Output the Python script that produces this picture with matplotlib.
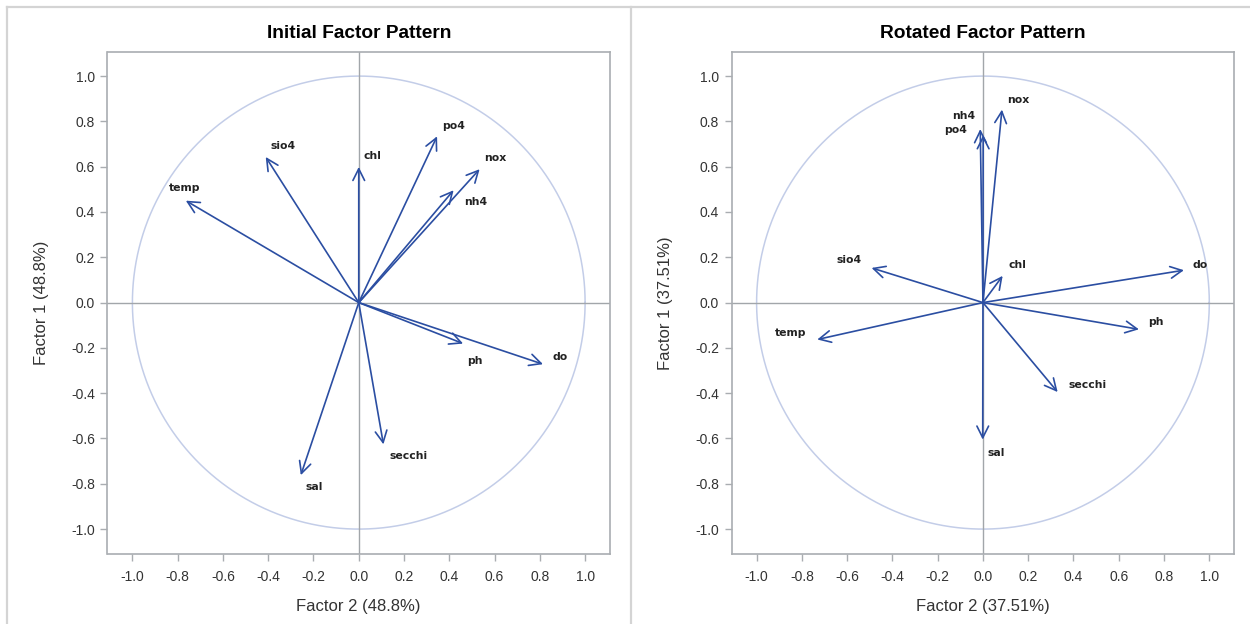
import matplotlib.pyplot as plt
import numpy as np
from matplotlib.lines import Line2D

plt.rcParams['font.family'] = ['Liberation Sans', 'DejaVu Sans']

# variables and loadings
variables = ['temp', 'sio4', 'chl', 'po4', 'nox', 'nh4', 'ph', 'do', 'sal', 'secchi']

initial_f2 = [-0.764, -0.411, 0.000, 0.346, 0.534, 0.419, 0.461, 0.814, -0.256, 0.109]
initial_f1 = [0.450, 0.643, 0.599, 0.734, 0.589, 0.496, -0.181, -0.272, -0.762, -0.626]

rotated_f2 = [-0.732, -0.492, 0.087, 0.001, 0.084, -0.012, 0.689, 0.888, -0.001, 0.330]
rotated_f1 = [-0.163, 0.153, 0.118, 0.739, 0.852, 0.766, -0.118, 0.143, -0.605, -0.395]

titles = ['Initial Factor Pattern', 'Rotated Factor Pattern']
x_labels = ['Factor 2 (48.8%)', 'Factor 2 (37.51%)']
y_labels = ['Factor 1 (48.8%)', 'Factor 1 (37.51%)']
ticks = [-1.0, -0.8, -0.6, -0.4, -0.2, 0.0, 0.2, 0.4, 0.6, 0.8, 1.0]

# label offsets from arrow tips, in pixels
label_offsets = [
    {'temp': (-1, 13), 'sio4': (17, 11), 'chl': (14, 11), 'po4': (16, 10), 'nox': (16, 11),
     'nh4': (22, -12), 'ph': (12, -17), 'do': (17, 7), 'sal': (13, -12), 'secchi': (25, -12)},
    {'temp': (-27, 7), 'sio4': (-23, 8), 'chl': (15, 11), 'po4': (-28, 5), 'nox': (16, 10),
     'nh4': (-17, 13), 'ph': (17, 7), 'do': (16, 5), 'sal': (13, -13), 'secchi': (30, 7)},
]

arrow_col = '#2b4ea2'
circle_col = '#c3cde8'
ref_col = '#a2a6aa'
frame_col = '#a9adb1'

fig = plt.figure(figsize=(12.5, 6.24), dpi=100)

# outer border and divider
W, H = 1250, 624
for xs, ys in [((7, W), (H - 7, H - 7)), ((7, 7), (H - 7, 0)), ((631, 631), (H - 7, 0))]:
    fig.add_artist(Line2D([x / W for x in xs], [y / H for y in ys], color='#d4d4d4', lw=1.6,
                          transform=fig.transFigure))

lefts = [107.5 / W, 731.7 / W]
data = [(initial_f2, initial_f1), (rotated_f2, rotated_f1)]

theta = np.linspace(0, 2 * np.pi, 400)

for i in range(2):
    ax = fig.add_axes([lefts[i], 1 - 554 / H, 502.5 / W, 501.7 / H])
    ax.set_xlim(-1.11, 1.11)
    ax.set_ylim(-1.11, 1.105)

    ax.plot(np.cos(theta), np.sin(theta), color=circle_col, lw=1.1, zorder=1)
    ax.axhline(0, color=ref_col, lw=1, zorder=1)
    ax.axvline(0, color=ref_col, lw=1, zorder=1)

    xs, ys = data[i]
    for name, x, y in zip(variables, xs, ys):
        ax.annotate('', xy=(x, y), xytext=(0, 0),
                    arrowprops=dict(arrowstyle='->,head_length=0.6,head_width=0.3',
                                    color=arrow_col, lw=1.2, shrinkA=0, shrinkB=0,
                                    mutation_scale=14), zorder=3)
        dx, dy = label_offsets[i][name]
        ax.annotate(name, xy=(x, y), xytext=(dx, dy), textcoords='offset pixels',
                    ha='center', va='center', fontsize=7.8, fontweight='bold',
                    family='DejaVu Sans', color='#222222', zorder=4)

    ax.set_xticks(ticks)
    ax.set_yticks(ticks)
    ax.set_xticklabels([f'{t:.1f}' for t in ticks])
    ax.set_yticklabels([f'{t:.1f}' for t in ticks])
    ax.tick_params(direction='out', length=5, width=1, color=frame_col, labelsize=10,
                   labelcolor='#333333', pad=4)
    ax.tick_params(axis='x', pad=6.5)
    for sp in ax.spines.values():
        sp.set_color(frame_col)
        sp.set_linewidth(1.2)

    ax.set_title(titles[i], fontsize=13.8, fontweight='bold', pad=10)
    ax.set_xlabel(x_labels[i], fontsize=12, color='#333333', labelpad=11)
    ax.set_ylabel(y_labels[i], fontsize=12, color='#333333', labelpad=16)

fig.savefig('out.png', dpi=100)
